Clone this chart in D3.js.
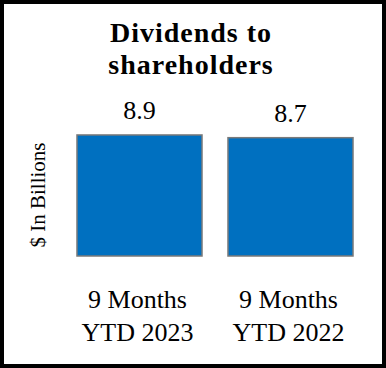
<!DOCTYPE html>
<html><head><meta charset="utf-8">
<script src="https://cdn.jsdelivr.net/npm/d3@7"></script>
<style>html,body{margin:0;padding:0;background:#fff;}</style>
</head><body>
<script>
const categories = [["9 Months","YTD 2023"],["9 Months","YTD 2022"]];
const values = [8.9, 8.7];
const valueLabels = ["8.9","8.7"];
const titleLines = ["Dividends to","shareholders"];
const yLabel = "$ In Billions";

const W = 386, H = 368;
const svg = d3.select("body").append("svg").attr("width", W).attr("height", H);
svg.append("rect").attr("x",2).attr("y",2).attr("width",W-4).attr("height",H-4)
  .attr("fill","#fff").attr("stroke","#000").attr("stroke-width",4);

const x = d3.scaleBand().domain(d3.range(values.length)).range([64,366])
  .paddingInner(0.172).paddingOuter(0.086);
const y = d3.scaleLinear().domain([0,10]).range([256,120]);

const font = "'Liberation Serif','Times New Roman',serif";

svg.selectAll("text.title").data(titleLines).enter().append("text")
  .attr("x",191).attr("y",(d,i)=>42+i*32)
  .attr("text-anchor","middle").attr("font-family",font).attr("font-weight","bold")
  .attr("font-size",28).attr("letter-spacing",1).attr("fill","#000").text(d=>d);

svg.selectAll("rect.bar").data(values).enter().append("rect")
  .attr("x",(d,i)=>x(i)).attr("y",d=>y(d)).attr("width",x.bandwidth())
  .attr("height",d=>y(0)-y(d)).attr("fill","#0070C0")
  .attr("stroke","#7a7a7a").attr("stroke-width",1.5);

svg.selectAll("text.val").data(values).enter().append("text")
  .attr("x",(d,i)=>x(i)+x.bandwidth()/2).attr("y",d=>y(d)-16)
  .attr("text-anchor","middle").attr("font-family",font).attr("font-size",26)
  .attr("fill","#000").text((d,i)=>valueLabels[i]);

categories.forEach((lines,i)=>{
  lines.forEach((t,j)=>{
    svg.append("text").attr("x",x(i)+x.bandwidth()/2-2).attr("y",308+j*33)
      .attr("text-anchor","middle").attr("font-family",font).attr("font-size",26)
      .attr("fill","#000").text(t);
  });
});

svg.append("text").attr("transform","translate(45,195) rotate(-90)")
  .attr("text-anchor","middle").attr("font-family",font).attr("font-size",21)
  .attr("fill","#000").text(yLabel);
</script>
</body></html>
